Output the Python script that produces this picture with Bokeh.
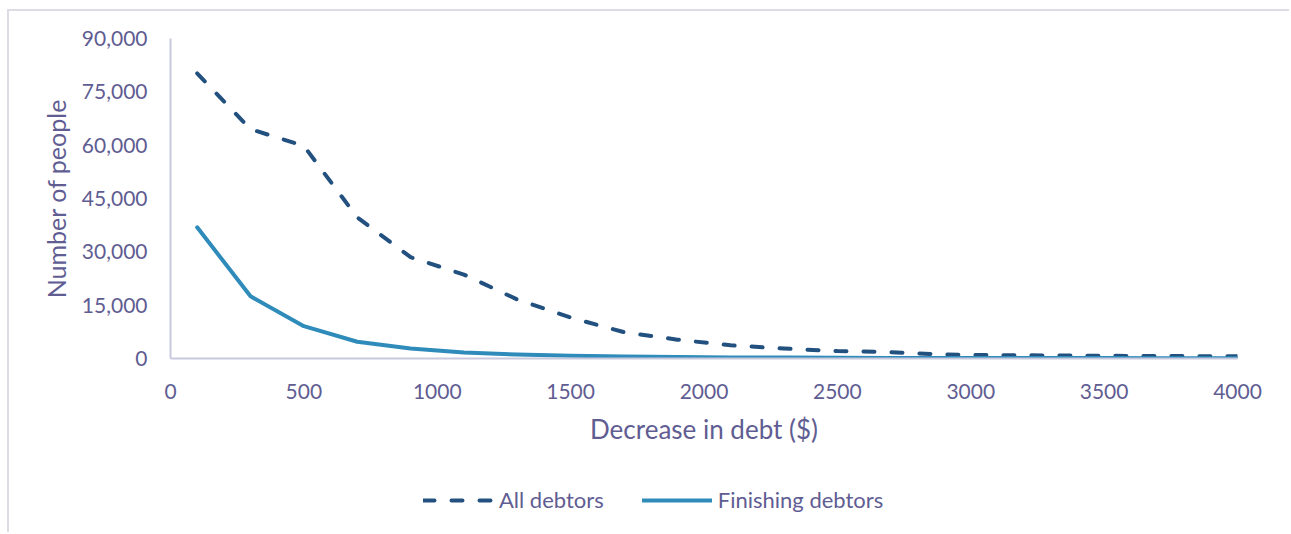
from bokeh.plotting import figure
from bokeh.layouts import column
from bokeh.models import (Range1d, SingleIntervalTicker, NumeralTickFormatter,
                          Legend, LegendItem)
from bokeh.embed import file_html
from bokeh.resources import INLINE

# Decrease in debt ($), bin midpoints
decrease = [100, 300, 500, 700, 900, 1100, 1300, 1500, 1700, 1900, 2100,
            2300, 2500, 2700, 2900, 3100, 3300, 3500, 3700, 3900, 4000]

# Number of people per bin
all_debtors = [80200, 64500, 59800, 39700, 28500, 23600, 16600, 11500, 7400,
               5300, 3700, 2800, 2100, 1800, 1100, 950, 850, 750, 700, 650, 600]
finishing_debtors = [36900, 17500, 9100, 4700, 2800, 1700, 1100, 750, 550,
                     400, 300, 250, 200, 170, 150, 130, 120, 110, 100, 90, 80]

series_names = ["All debtors", "Finishing debtors"]

TEXT = "#5F5D92"
AXIS = "#C9C9DD"
FONT = "Lato"
DARK = "#22507F"
LIGHT = "#2E8BBA"
DASH = "11 17"

# main chart
p = figure(width=1282, height=449, output_backend="svg", toolbar_location=None,
           x_range=Range1d(0, 4000), y_range=Range1d(0, 90000),
           min_border_left=161, min_border_right=54,
           min_border_top=27, min_border_bottom=102,
           outline_line_color=None, background_fill_color="white",
           border_fill_color="white")
p.grid.visible = False

p.line(decrease, all_debtors, line_color=DARK, line_width=4,
       line_dash=DASH, line_cap="round", line_join="round")
p.line(decrease, finishing_debtors, line_color=LIGHT, line_width=4,
       line_cap="round", line_join="round")

for ax in (p.xaxis[0], p.yaxis[0]):
    ax.axis_line_color = AXIS
    ax.axis_line_width = 2
    ax.major_tick_line_color = None
    ax.minor_tick_line_color = None
    ax.major_label_text_color = TEXT
    ax.major_label_text_font = FONT
    ax.major_label_text_font_size = "21px"
    ax.axis_label_text_color = TEXT
    ax.axis_label_text_font = FONT
    ax.axis_label_text_font_style = "normal"

p.xaxis.ticker = SingleIntervalTicker(interval=500)
p.xaxis.axis_label = "Decrease in debt ($)"
p.xaxis.axis_label_text_font_size = "26px"
p.xaxis.major_label_standoff = 19
p.xaxis.axis_label_standoff = 11

p.yaxis.ticker = SingleIntervalTicker(interval=15000)
p.yaxis.formatter = NumeralTickFormatter(format="0,0")
p.yaxis.axis_label = "Number of people"
p.yaxis.axis_label_text_font_size = "25px"
p.yaxis.major_label_standoff = 17
p.yaxis.axis_label_standoff = 8

# legend strip under the chart (its frame lines up with the chart's frame)
lg = figure(width=1282, height=74, output_backend="svg", toolbar_location=None,
            x_range=Range1d(0, 1), y_range=Range1d(0, 1),
            x_axis_location=None, y_axis_location=None,
            min_border=0, outline_line_color=None,
            background_fill_color="white", border_fill_color="white")
lg.grid.visible = False
k_all = lg.line([-2, -1], [-2, -1], line_color=DARK, line_width=4,
                line_dash=DASH, line_cap="round")
k_fin = lg.line([-2, -1], [-2, -1], line_color=LIGHT, line_width=4,
                line_cap="round")

legend = Legend(items=[LegendItem(label=series_names[0], renderers=[k_all]),
                       LegendItem(label=series_names[1], renderers=[k_fin])],
                orientation="horizontal", location=(253, 21),
                glyph_width=70, glyph_height=20, label_standoff=6, spacing=38,
                padding=0, margin=0, border_line_alpha=0,
                background_fill_alpha=0,
                label_text_color=TEXT, label_text_font=FONT,
                label_text_font_size="22px")
lg.add_layout(legend, "center")

page = column(p, lg, spacing=0)
page.margin = (11, 0, 0, 9)
page.styles = {"box-shadow": "-2px -2px 0 0 #DCDCE6"}

open("out.html", "w").write(file_html(page, INLINE))
